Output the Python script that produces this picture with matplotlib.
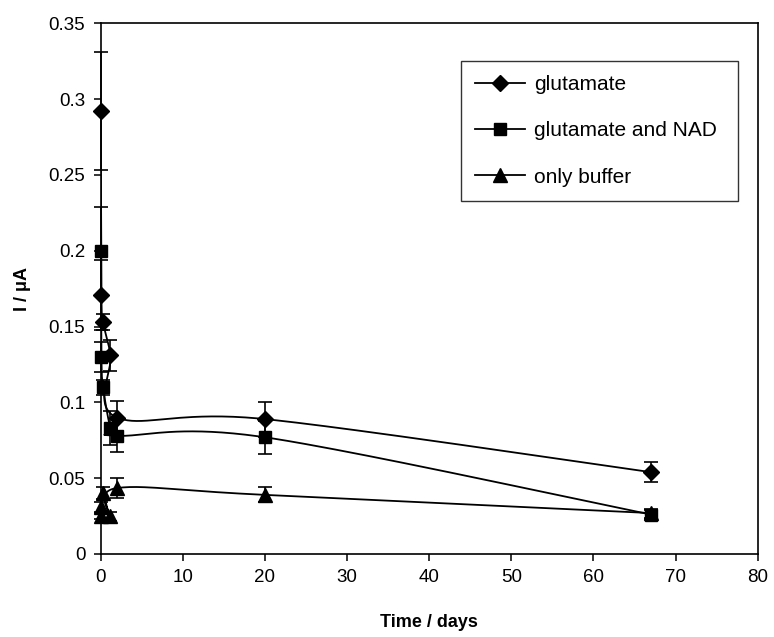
import numpy as np
import matplotlib
matplotlib.use("Agg")
import matplotlib.pyplot as plt
from matplotlib.ticker import FuncFormatter

plt.rcParams["font.family"] = ["Liberation Sans", "DejaVu Sans"]

# data (time in days, current in uA)
days = [0, 0.1, 0.3, 1.2, 2, 20, 67]
glutamate = [0.292, 0.171, 0.153, 0.131, 0.090, 0.089, 0.054]
glutamate_err = [0.039, 0.023, 0.005, 0.010, 0.011, 0.0115, 0.0065]
glu_nad = [0.200, 0.130, 0.110, 0.083, 0.078, 0.077, 0.026]
glu_nad_err = [0.029, 0.010, 0.005, 0.011, 0.011, 0.011, 0.003]
buffer = [0.025, 0.031, 0.040, 0.025, 0.0435, 0.039, 0.027]
buffer_err = [0.002, 0.003, 0.004, 0.003, 0.0065, 0.005, 0.003]


def smooth(x, y, n=40):
    # excel-like smoothed line: bezier through points
    x = np.asarray(x, float)
    y = np.asarray(y, float)
    px = np.concatenate([[x[0]], x, [x[-1]]])
    py = np.concatenate([[y[0]], y, [y[-1]]])
    xs, ys = [], []
    t = np.linspace(0, 1, n)
    for i in range(1, len(px) - 2):
        p0 = np.array([px[i], py[i]])
        p3 = np.array([px[i + 1], py[i + 1]])
        c1 = p0 + (np.array([px[i + 1], py[i + 1]]) - np.array([px[i - 1], py[i - 1]])) / 6
        c2 = p3 - (np.array([px[i + 2], py[i + 2]]) - np.array([px[i], py[i]])) / 6
        b = ((1 - t) ** 3)[:, None] * p0 + (3 * (1 - t) ** 2 * t)[:, None] * c1 \
            + (3 * (1 - t) * t ** 2)[:, None] * c2 + (t ** 3)[:, None] * p3
        xs.extend(b[:, 0])
        ys.extend(b[:, 1])
    return xs, ys


fig = plt.figure(figsize=(7.74, 6.37), dpi=100)
ax = fig.add_axes([0.130, 0.1303, 0.849, 0.833])

series = [
    (glutamate, glutamate_err, "D", 8.5, "glutamate"),
    (glu_nad, glu_nad_err, "s", 8.5, "glutamate and NAD"),
    (buffer, buffer_err, "^", 9.5, "only buffer"),
]

for vals, err, mk, ms, lab in series:
    sx, sy = smooth(days, vals)
    ax.plot(sx, sy, color="black", lw=1.3, zorder=2)
    eb = ax.errorbar(days, vals, yerr=err, fmt="none", ecolor="black",
                     elinewidth=1.2, capsize=5, capthick=1.2, zorder=3)
    for art in eb.lines[1] + eb.lines[2]:
        art.set_clip_on(False)
    ax.plot(days, vals, ls="none", marker=mk, ms=ms, color="black", zorder=4,
            clip_on=False)
    ax.plot([], [], color="black", lw=1.3, marker=mk, ms=ms, label=lab)

ax.set_xlim(0, 80)
ax.set_ylim(0, 0.35)
ax.set_xticks(range(0, 81, 10))
ax.set_yticks(np.arange(0, 0.351, 0.05))
ax.yaxis.set_major_formatter(FuncFormatter(lambda v, p: "%g" % round(v, 2)))
ax.tick_params(direction="out", length=5, width=1.1, labelsize=13.5, pad=6)
for s in ax.spines.values():
    s.set_linewidth(1.2)

ax.set_xlabel("Time / days", fontsize=13, fontweight="bold", labelpad=20)
ax.set_ylabel("I / \u03bcA", fontsize=13, fontweight="bold", labelpad=13)

leg = ax.legend(loc="upper left", bbox_to_anchor=(0.548, 0.670, 0.422, 0.2595),
                mode="expand", fontsize=15, frameon=True, fancybox=False,
                edgecolor="black", handlelength=2.4, labelspacing=1.3,
                borderpad=0.7, handletextpad=0.4, borderaxespad=0)
leg.get_frame().set_linewidth(1.0)

fig.savefig("out.png", dpi=100)
